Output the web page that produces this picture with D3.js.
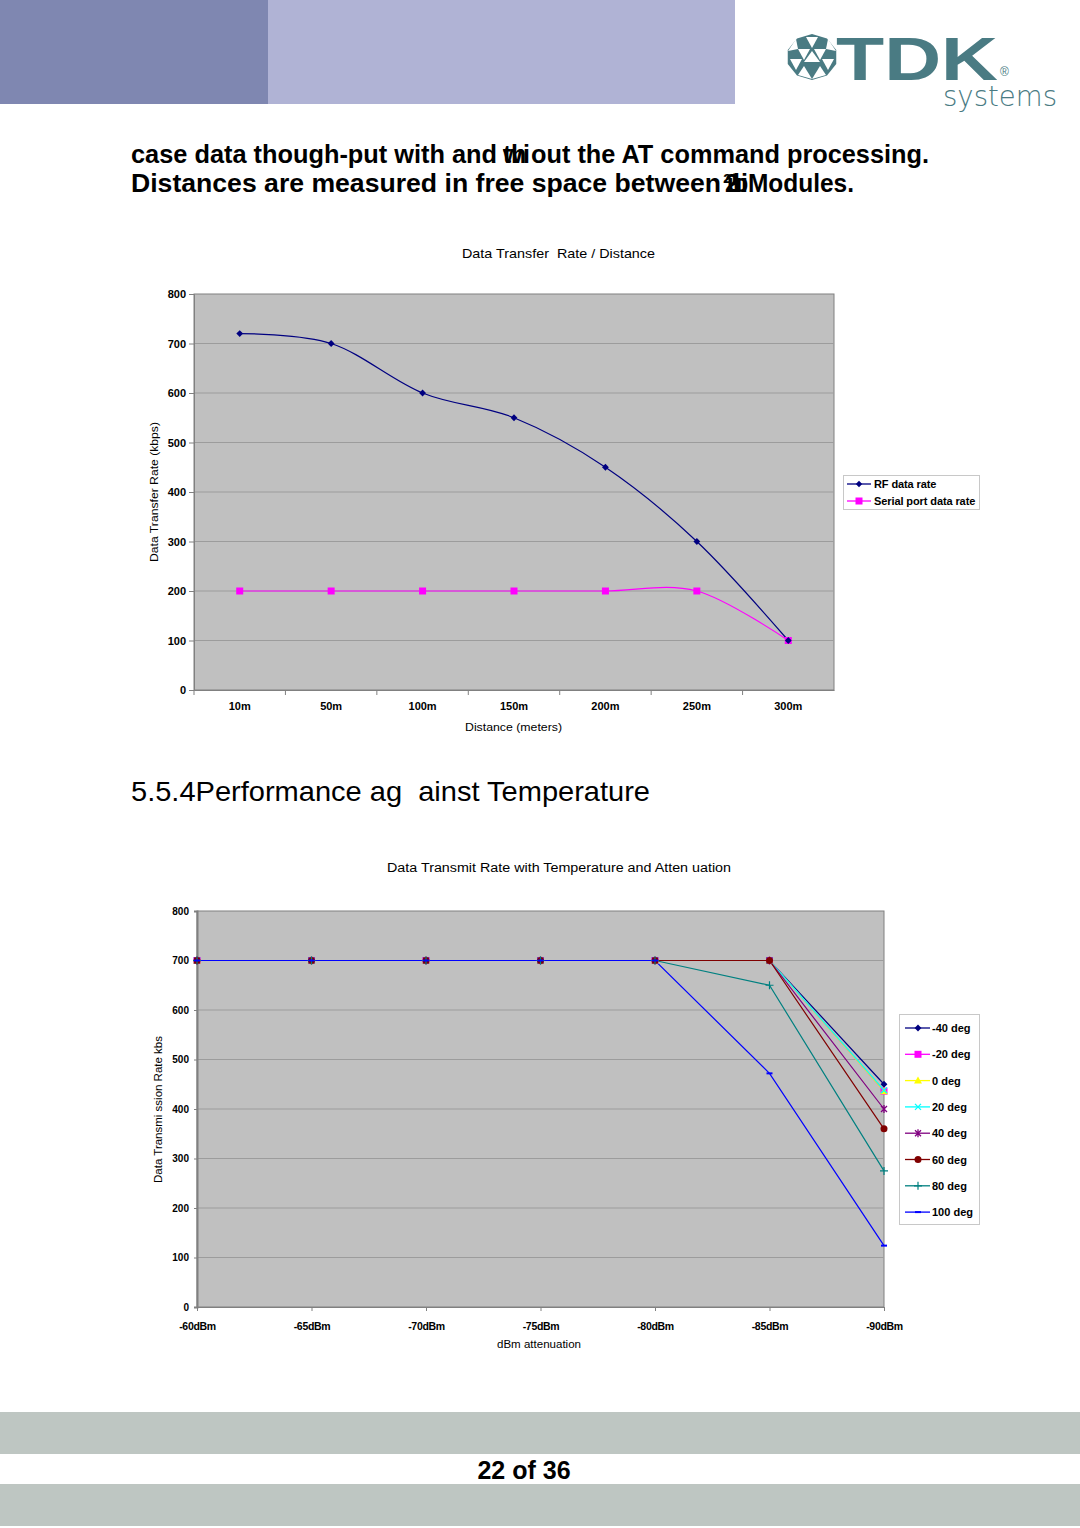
<!DOCTYPE html>
<html><head><meta charset="utf-8">
<script src="https://cdn.jsdelivr.net/npm/d3@7"></script>
<style>
body{margin:0;background:#fff;}
svg{display:block;font-family:"Liberation Sans",Arial,sans-serif;}
text{white-space:pre;}
</style></head>
<body>
<svg id="c" width="1080" height="1528"></svg>
<script>
// ---- Data: chart 1 ----
const distCats = ["10m","50m","100m","150m","200m","250m","300m"];
const rfRate = [720,700,600,550,450,300,100];
const serialRate = [200,200,200,200,200,200,100];
const yTicks1 = [0,100,200,300,400,500,600,700,800];

// ---- Data: chart 2 ----
const dbmCats = ["-60dBm","-65dBm","-70dBm","-75dBm","-80dBm","-85dBm","-90dBm"];
const tempNames = ["-40 deg","-20 deg","0 deg","20 deg","40 deg","60 deg","80 deg","100 deg"];
const degM40 = [700,700,700,700,700,700,450];
const degM20 = [700,700,700,700,700,700,436];
const deg0   = [700,700,700,700,700,700,436];
const deg20  = [700,700,700,700,700,700,438];
const deg40  = [700,700,700,700,700,700,400];
const deg60  = [700,700,700,700,700,700,360];
const deg80  = [700,700,700,700,700,650,275];
const deg100 = [700,700,700,700,700,472,124];
const yTicks2 = [0,100,200,300,400,500,600,700,800];

const svg = d3.select("#c");
const diamondPath = "M0,-4L4,0L0,4L-4,0Z";

// ---- Header ----
svg.append("rect").attr("x",0).attr("y",0).attr("width",268).attr("height",104).attr("fill","#7f87b1");
svg.append("rect").attr("x",268).attr("y",0).attr("width",467).attr("height",104).attr("fill","#b0b3d5");
const teal = "#4a7b83";
const lg = svg.append("g").attr("transform","translate(812,57)");
const R = 25;
const hexPts = d3.range(10).map(i=>{const a=-Math.PI/2+i*Math.PI/5;return [R*Math.cos(a)*1.02,R*Math.sin(a)*0.92];});
lg.append("polygon").attr("points",hexPts.map(p=>p.join(",")).join(" ")).attr("fill",teal);
const tri = [
 [[-6,-20],[6,-20],[0,-9]],
 [[-14,-8],[-2,-8],[-8,3]],
 [[2,-8],[14,-8],[8,3]],
 [[-8,5],[8,5],[0,-6]],
 [[-22,2],[-10,2],[-16,13]],
 [[10,2],[22,2],[16,13]],
 [[-8,9],[0,22],[-14,18]],
 [[8,9],[0,22],[14,18]],
 [[-24,-6],[-16,-18],[-14,-8]],
 [[24,-6],[16,-18],[14,-8]]
];
tri.forEach(t=>lg.append("polygon").attr("points",t.map(p=>p.join(",")).join(" ")).attr("fill","#fff"));
svg.append("text").attr("x",836).attr("y",80).attr("font-size",62).attr("font-weight","bold")
  .attr("fill",teal).attr("textLength",162).attr("lengthAdjust","spacingAndGlyphs").text("TDK");
svg.append("text").attr("x",1000).attr("y",76).attr("font-size",12).attr("fill",teal).text("®");
svg.append("text").attr("x",943).attr("y",106).attr("font-size",29).attr("fill",teal)
  .attr("font-family","DejaVu Sans").attr("font-weight","300").attr("textLength",114).attr("lengthAdjust","spacingAndGlyphs").text("systems");

// ---- Intro text (garbled overlapping glyphs kept inside a single tspan via per-glyph x) ----
function line(y, parts){
  const e = svg.append("text").attr("y",y).attr("font-weight","bold").attr("fill","#000");
  parts.forEach(p=>{
    const s = e.append("tspan").attr("x",p.x).attr("y",p.y||y).attr("font-size",p.size||25).text(p.s);
    if(p.len) s.attr("textLength",p.len).attr("lengthAdjust","spacingAndGlyphs");
  });
  return e;
}
line(163,[
  {x:131,s:"case data though-put with and",len:366},
  {x:"503 511 503 523",s:"thwi"},
  {x:531,s:"out the AT command processing.",len:398}
]);
line(192,[
  {x:131,s:"Distances are measured in free space between",len:590},
  {x:"725 727 733 741 723 732",y:"192 192 192 192 191.5 191.5",s:"2ubi\u00B2\u2071"},
  {x:748,s:"Modules.",len:106}
]);
svg.append("text").attr("x",131).attr("y",801).attr("font-size",28).attr("textLength",519)
  .attr("lengthAdjust","spacingAndGlyphs").text("5.5.4Performance ag  ainst Temperature");

// ---- Footer ----
svg.append("rect").attr("x",0).attr("y",1412).attr("width",1080).attr("height",42).attr("fill","#bec6c2");
svg.append("rect").attr("x",0).attr("y",1484).attr("width",1080).attr("height",42).attr("fill","#bec6c2");
svg.append("text").attr("x",524).attr("y",1479).attr("text-anchor","middle").attr("font-size",25)
  .attr("font-weight","bold").text("22 of 36");

const plotBg = "#c0c0c0", gridC = "#9c9c9c", axisC = "#808080";

// ================= Chart 1 =================
{
  const L=194,Rr=834,T=294,B=690;
  const x = d3.scaleBand().domain(distCats).range([L,Rr]);
  const y = d3.scaleLinear().domain([0,800]).range([B,T]);
  const g = svg.append("g");
  g.append("rect").attr("x",L).attr("y",T).attr("width",Rr-L).attr("height",B-T).attr("fill",plotBg).attr("stroke",axisC);
  g.selectAll(".gl").data(yTicks1.filter(v=>v>0&&v<800)).join("line")
    .attr("x1",L).attr("x2",Rr).attr("y1",d=>y(d)).attr("y2",d=>y(d)).attr("stroke",gridC);
  const ya = d3.axisLeft(y).tickValues(yTicks1).tickSize(5).tickPadding(3);
  const yg = g.append("g").attr("transform",`translate(${L},0)`).call(ya);
  yg.selectAll("path,line").attr("stroke",axisC);
  yg.selectAll("text").attr("font-size",11).attr("font-weight","bold").attr("fill","#000").attr("font-family","Liberation Sans, Arial");
  const xa = d3.axisBottom(x).tickSize(0).tickPadding(12);
  const xg = g.append("g").attr("transform",`translate(0,${B})`).call(xa);
  xg.selectAll("path").attr("stroke",axisC);
  xg.selectAll("text").attr("font-size",11).attr("font-weight","bold").attr("fill","#000").attr("font-family","Liberation Sans, Arial");
  g.selectAll(".bt").data(distCats).join("line")
    .attr("x1",d=>x(d)).attr("x2",d=>x(d)).attr("y1",B).attr("y2",B+5).attr("stroke",axisC);
  const cx = d=>x(d)+x.bandwidth()/2;
  const ln = d3.line().x((d,i)=>cx(distCats[i])).y(d=>y(d)).curve(d3.curveCardinal.tension(0));
  g.append("path").attr("d",ln(serialRate)).attr("fill","none").attr("stroke","#ff00ff").attr("stroke-width",1.2);
  g.append("path").attr("d",ln(rfRate)).attr("fill","none").attr("stroke","#000080").attr("stroke-width",1.2);
  g.selectAll(".sq").data(serialRate).join("rect")
    .attr("x",(d,i)=>cx(distCats[i])-3.5).attr("y",d=>y(d)-3.5).attr("width",7).attr("height",7).attr("fill","#ff00ff");
  g.selectAll(".dm").data(rfRate).join("path")
    .attr("d",diamondPath).attr("transform",(d,i)=>`translate(${cx(distCats[i])},${y(d)}) scale(0.85)`).attr("fill","#000080");
  svg.append("text").attr("x",462).attr("y",258).attr("font-size",13).attr("textLength",193).attr("lengthAdjust","spacingAndGlyphs").text("Data Transfer  Rate / Distance");
  svg.append("text").attr("x",465).attr("y",731).attr("font-size",11.5).attr("textLength",97).attr("lengthAdjust","spacingAndGlyphs").text("Distance (meters)");
  svg.append("text").attr("transform","translate(158,562) rotate(-90)").attr("font-size",11.5).attr("textLength",140).attr("lengthAdjust","spacingAndGlyphs").text("Data Transfer Rate (kbps)");
  const lgd = svg.append("g");
  lgd.append("rect").attr("x",843.5).attr("y",475.5).attr("width",136).attr("height",34).attr("fill","#fff").attr("stroke","#c8c8c8");
  const items=[["RF data rate","#000080","d"],["Serial port data rate","#ff00ff","s"]];
  items.forEach((it,i)=>{
    const yy=484+i*17;
    lgd.append("line").attr("x1",847).attr("x2",871).attr("y1",yy).attr("y2",yy).attr("stroke",it[1]).attr("stroke-width",1.3);
    if(it[2]==="d") lgd.append("path").attr("d",diamondPath).attr("transform",`translate(859,${yy}) scale(0.8)`).attr("fill",it[1]);
    else lgd.append("rect").attr("x",855.5).attr("y",yy-3.5).attr("width",7).attr("height",7).attr("fill",it[1]);
    lgd.append("text").attr("x",874).attr("y",yy+4).attr("font-size",11).attr("font-weight","bold").attr("letter-spacing",-0.1).text(it[0]);
  });
}

// ================= Chart 2 =================
{
  const L=197,Rr=884,T=911,B=1307;
  const x = d3.scalePoint().domain(dbmCats).range([L,Rr]);
  const y = d3.scaleLinear().domain([0,800]).range([B,T]);
  const g = svg.append("g");
  g.append("rect").attr("x",L).attr("y",T).attr("width",Rr-L).attr("height",B-T).attr("fill",plotBg).attr("stroke",axisC);
  g.selectAll(".gl").data(yTicks2.filter(v=>v>0&&v<800)).join("line")
    .attr("x1",L).attr("x2",Rr).attr("y1",d=>y(d)).attr("y2",d=>y(d)).attr("stroke",gridC);
  const ya = d3.axisLeft(y).tickValues(yTicks2).tickSize(3).tickPadding(5);
  const yg = g.append("g").attr("transform",`translate(${L},0)`).call(ya);
  yg.selectAll("path,line").attr("stroke",axisC);
  yg.select("path").attr("stroke-width",2);
  yg.selectAll("text").attr("font-size",10).attr("font-weight","bold").attr("fill","#000").attr("font-family","Liberation Sans, Arial");
  const xa = d3.axisBottom(x).tickSize(4).tickPadding(12);
  const xg = g.append("g").attr("transform",`translate(0,${B})`).call(xa);
  xg.selectAll("path,line").attr("stroke",axisC);
  xg.selectAll("text").attr("font-size",10.5).attr("font-weight","bold").attr("fill","#000").attr("font-family","Liberation Sans, Arial").attr("letter-spacing",-0.3);

  const series = [
    {name:tempNames[0],v:degM40,c:"#000080",m:"diamond"},
    {name:tempNames[1],v:degM20,c:"#ff00ff",m:"square"},
    {name:tempNames[2],v:deg0,c:"#ffff00",m:"triangle"},
    {name:tempNames[3],v:deg20,c:"#00ffff",m:"x"},
    {name:tempNames[4],v:deg40,c:"#800080",m:"star"},
    {name:tempNames[5],v:deg60,c:"#800000",m:"circle"},
    {name:tempNames[6],v:deg80,c:"#008080",m:"plus"},
    {name:tempNames[7],v:deg100,c:"#0000ff",m:"dash"}
  ];
  function marker(sel,m,c,px,py){
    const tr=`translate(${px},${py})`;
    if(m==="diamond") sel.append("path").attr("d",diamondPath).attr("transform",tr+" scale(0.85)").attr("fill",c);
    else if(m==="square") sel.append("rect").attr("x",px-3.5).attr("y",py-3.5).attr("width",7).attr("height",7).attr("fill",c);
    else if(m==="triangle") sel.append("path").attr("d","M0,-4L4,3L-4,3Z").attr("transform",tr).attr("fill",c);
    else if(m==="x") sel.append("path").attr("d","M-3,-3L3,3M-3,3L3,-3").attr("transform",tr).attr("stroke",c).attr("stroke-width",1.3);
    else if(m==="star") sel.append("path").attr("d","M-3,-3L3,3M-3,3L3,-3M0,-4L0,4").attr("transform",tr).attr("stroke",c).attr("stroke-width",1.3);
    else if(m==="circle") sel.append("circle").attr("cx",px).attr("cy",py).attr("r",3.5).attr("fill",c);
    else if(m==="plus") sel.append("path").attr("d","M-4,0L4,0M0,-4L0,4").attr("transform",tr).attr("stroke",c).attr("stroke-width",1.2);
    else if(m==="dash") sel.append("path").attr("d","M-3,0L3,0").attr("transform",tr).attr("stroke",c).attr("stroke-width",2);
  }
  const ln = d3.line().x((d,i)=>x(dbmCats[i])).y(d=>y(d));
  series.forEach(s=>{
    g.append("path").attr("d",ln(s.v)).attr("fill","none").attr("stroke",s.c).attr("stroke-width",1.2);
  });
  series.forEach(s=>{
    s.v.forEach((d,i)=>marker(g,s.m,s.c,x(dbmCats[i]),y(d)));
  });
  svg.append("text").attr("x",387).attr("y",872).attr("font-size",12.5).attr("textLength",344).attr("lengthAdjust","spacingAndGlyphs").text("Data Transmit Rate with Temperature and Atten uation");
  svg.append("text").attr("x",497).attr("y",1348).attr("font-size",10.5).attr("textLength",84).attr("lengthAdjust","spacingAndGlyphs").text("dBm attenuation");
  svg.append("text").attr("transform","translate(162,1183) rotate(-90)").attr("font-size",10.5).attr("textLength",147).attr("lengthAdjust","spacingAndGlyphs").text("Data Transmi ssion Rate kbs");
  const lgd = svg.append("g");
  lgd.append("rect").attr("x",899.5).attr("y",1014.5).attr("width",80).attr("height",210).attr("fill","#fff").attr("stroke","#c8c8c8");
  series.forEach((s,i)=>{
    const yy=1028+i*26.3;
    lgd.append("line").attr("x1",905).attr("x2",930).attr("y1",yy).attr("y2",yy).attr("stroke",s.c).attr("stroke-width",1.3);
    marker(lgd,s.m,s.c,918,yy);
    lgd.append("text").attr("x",932).attr("y",yy+4).attr("font-size",11).attr("font-weight","bold").text(s.name);
  });
}
</script>
</body></html>
